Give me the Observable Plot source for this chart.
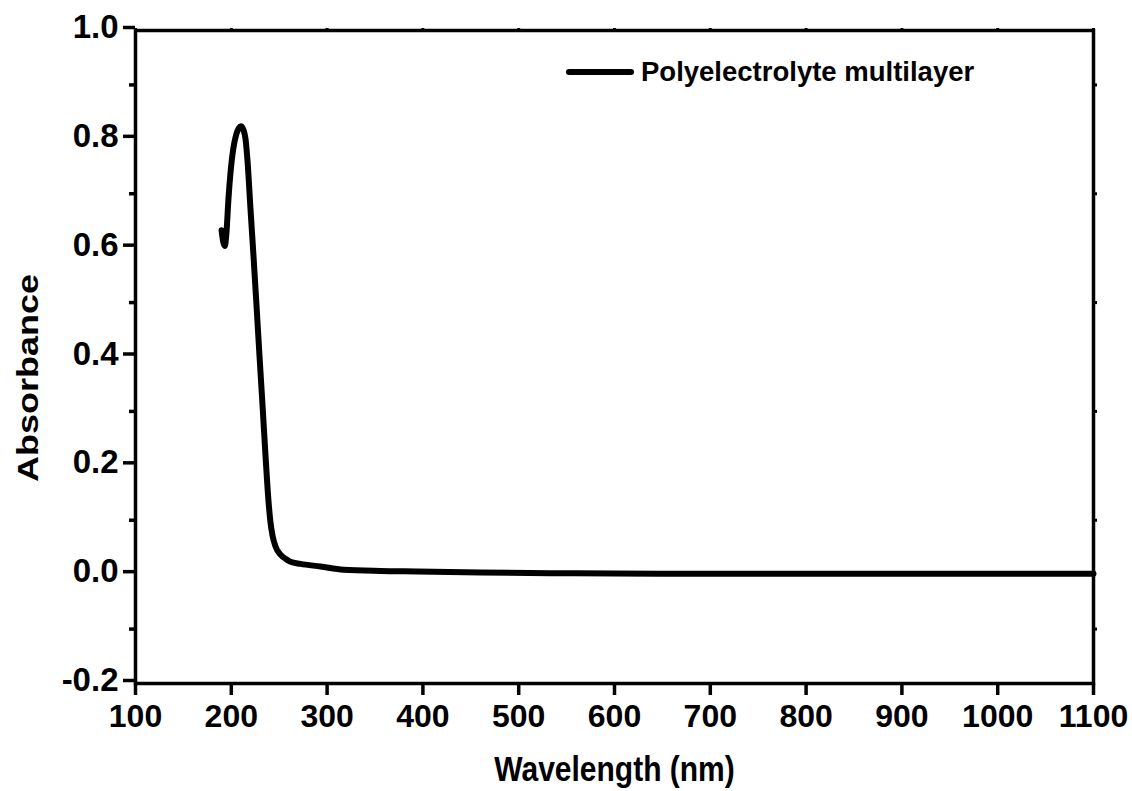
<!DOCTYPE html>
<html>
<head>
<meta charset="utf-8">
<script src="https://cdn.jsdelivr.net/npm/d3@7"></script>
<script src="https://cdn.jsdelivr.net/npm/@observablehq/plot@0.6"></script>
<style>
  html, body { margin: 0; padding: 0; background: #fff; }
  #wrap { position: relative; width: 1132px; height: 791px; }
  #legend { position: absolute; left: 564px; top: 56px; display: flex; align-items: center;
    font-family: "Liberation Sans", Arial, sans-serif; font-weight: bold; font-size: 27.5px; color: #000; }
  #legend svg { margin-right: 5px; }
</style>
</head>
<body>
<div id="wrap"></div>
<script>
// Data
const wavelength = [189.8, 191.5, 193.2, 195, 197, 199.5, 202, 205, 208, 210.1, 212.5, 214.8, 216.9, 220,
  223.2, 226.3, 229.4, 232.6, 235.7, 238.8, 240.9, 243, 246.1, 251.4, 256.6, 261.8, 272.2, 293.1, 317.1,
  355.7, 394.4, 460, 533, 600, 700, 800, 900, 1000, 1100];
const absorbance = [0.633, 0.612, 0.604, 0.630, 0.690, 0.745, 0.782, 0.808, 0.821, 0.824, 0.818, 0.8015, 0.761, 0.673,
  0.585, 0.495, 0.403, 0.311, 0.219, 0.136, 0.096, 0.072, 0.052, 0.037, 0.0292, 0.0236, 0.0199, 0.015, 0.009,
  0.0068, 0.006, 0.004, 0.0027, 0.002, 0.0017, 0.0016, 0.0016, 0.0015, 0.0015];
const xTicks = [100, 200, 300, 400, 500, 600, 700, 800, 900, 1000, 1100];
const yTicks = [-0.2, 0.0, 0.2, 0.4, 0.6, 0.8, 1.0];
const yMinorTicks = [-0.1, 0.1, 0.3, 0.5, 0.7, 0.9];
const seriesName = "Polyelectrolyte multilayer";
const xTitle = "Wavelength (nm)";
const yTitle = "Absorbance";

const data = wavelength.map((w, i) => ({wavelength: w, absorbance: absorbance[i]}));

const chart = Plot.plot({
  width: 1132,
  height: 791,
  marginLeft: 135,
  marginRight: 39,
  marginTop: 30,
  marginBottom: 108,
  x: {domain: [100, 1100]},
  y: {domain: [-0.2, 1.0]},
  style: {
    fontFamily: '"Liberation Sans", Arial, sans-serif',
    fontWeight: "bold",
    fontSize: "31px",
    background: "#fff",
    color: "#000",
    overflow: "visible"
  },
  marks: [
    Plot.axisX(xTicks, {anchor: "bottom", tickSize: 12, tickPadding: 9, strokeWidth: 3.5, tickFormat: d => String(d), label: null, fontSize: 32}),
    Plot.axisX(xTicks, {anchor: "top", tickSize: 3, strokeWidth: 3, tickFormat: () => "", label: null}),
    Plot.axisY(yTicks, {anchor: "left", tickSize: 12, tickPadding: 5, strokeWidth: 3.5, tickFormat: d => d.toFixed(1), label: null, fontSize: 33, dy: -3}),
    Plot.axisY(yMinorTicks, {anchor: "left", tickSize: 6, strokeWidth: 3.5, tickFormat: () => "", label: null}),
    Plot.axisY(yMinorTicks, {anchor: "right", tickSize: 3, strokeWidth: 3, tickFormat: () => "", label: null}),
    Plot.frame({stroke: "#000", strokeWidth: 3.5}),
    Plot.line(data, {x: "wavelength", y: "absorbance", stroke: "#000", strokeWidth: 6, curve: "monotone-x", strokeLinejoin: "round", strokeLinecap: "round"}),
    Plot.text([xTitle], {frameAnchor: "bottom", lineAnchor: "middle", textAnchor: "middle", dy: 86, fontSize: 30, fontWeight: "bold", fill: "#000", className: "xtitle"}),
    Plot.text([yTitle], {frameAnchor: "left", lineAnchor: "middle", textAnchor: "middle", rotate: -90, dx: -107, dy: 21, fontSize: 30, fontWeight: "bold", fill: "#000", className: "ytitle"})
  ]
});

// The reference's titles are drawn slightly stretched: tall x-title, long y-title
d3.select(chart).selectAll(".xtitle text").each(function() {
  const t = this.getAttribute("transform") || "";
  this.setAttribute("transform", t + " scale(1,1.18)");
});
d3.select(chart).selectAll(".ytitle text").each(function() {
  const t = this.getAttribute("transform") || "";
  this.setAttribute("transform", t + " scale(1.2,1)");
});

const wrap = document.getElementById("wrap");
wrap.appendChild(chart);
const legend = document.createElement("div");
legend.id = "legend";
legend.innerHTML = `<svg width="72" height="10"><line x1="5" y1="5" x2="67" y2="5" stroke="#000" stroke-width="6" stroke-linecap="round"/></svg><span>${seriesName}</span>`;
wrap.appendChild(legend);
</script>
</body>
</html>
